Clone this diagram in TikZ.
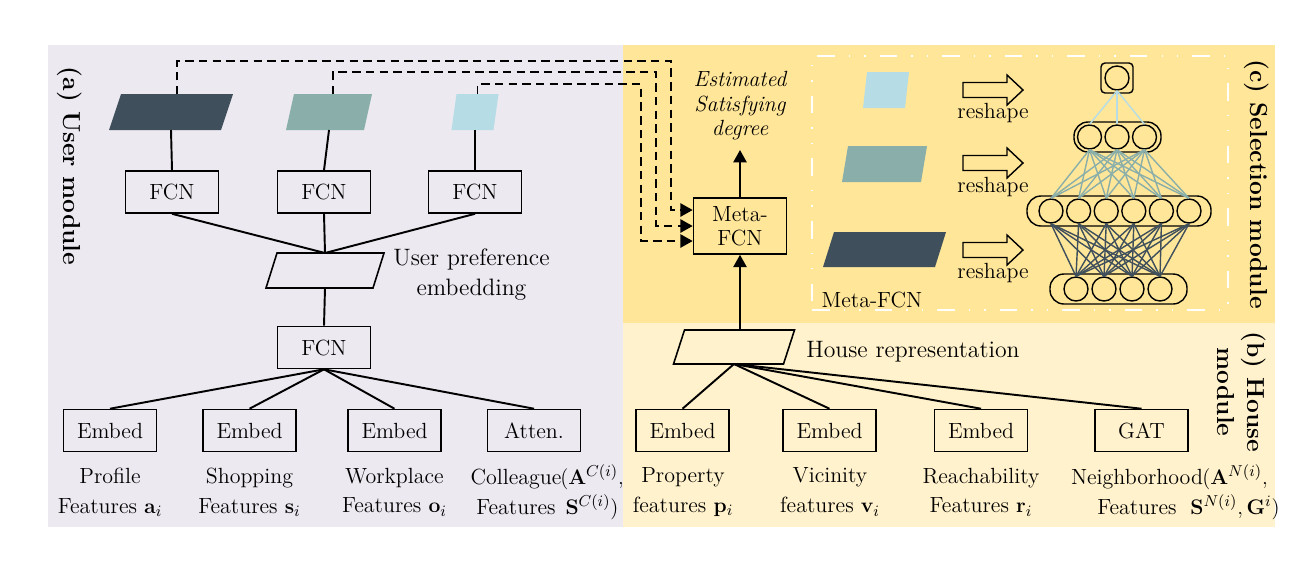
\documentclass[tikz,border=0pt]{standalone}
\usepackage{amsmath}
\usetikzlibrary{calc,arrows.meta}
\newdimen\pxu \pxu=0.02cm
\definecolor{lav}{RGB}{236,233,241}
\definecolor{gold}{RGB}{255,230,153}
\definecolor{cream}{RGB}{255,242,204}
\definecolor{dkc}{RGB}{63,80,92}
\definecolor{tlc}{RGB}{138,175,170}
\definecolor{lbc}{RGB}{182,221,229}
\newcommand\myfs{\fontsize{12.5}{15}\selectfont}
% parallelogram: name, cx, cy, w, h, slant, path options
\newcommand\para[7]{%
  \node[minimum width=#4\pxu, minimum height=#5\pxu, inner sep=0pt, outer sep=0pt] (#1) at (#2,#3) {};
  \path[#7] ($(#1.north west)+(#6/2,0)$) -- ($(#1.north east)+(#6/2,0)$) -- ($(#1.south east)+(-#6/2,0)$) -- ($(#1.south west)+(-#6/2,0)$) -- cycle;
  \coordinate (#1-t) at ($(#1.north)+(#6/2,0)$);
}
\newcommand\rsarrow[2]{%
  \draw[line width=0.8pt, fill=gold] (#1,#2-7.5) -- (#1+44,#2-7.5) -- (#1+44,#2-15) -- (#1+60,#2) -- (#1+44,#2+15) -- (#1+44,#2+7.5) -- (#1,#2+7.5) -- cycle;
}
\begin{document}
\begin{tikzpicture}[x=\pxu,y=-\pxu,
  every node/.style={font=\myfs},
  box/.style={draw, line width=0.9pt, minimum width=93\pxu, minimum height=42\pxu, inner sep=0pt},
  conn/.style={line width=1.1pt},
  dconn/.style={line width=1.1pt, dash pattern=on 4.8pt off 3pt},
  tip/.style={-{Triangle[length=7pt,width=7.5pt]}},
  lbl/.style={align=center, font=\fontsize{12.5}{17}\selectfont},
  wide/.style={font=\fontsize{13.5}{17}\selectfont},
  neuron/.style={circle, draw, line width=0.8pt, minimum size=24\pxu, inner sep=0pt},
  layer/.style={draw, line width=0.8pt, rounded corners=14\pxu, minimum height=30\pxu, inner sep=0pt},
  ttl/.style={rotate=-90, font=\bfseries\fontsize{14}{17}\selectfont, align=center},
  nnl/.style={line width=0.8pt}
]
\useasboundingbox (0,0) rectangle (1314,566);
\fill[lav] (48,45) rectangle (623,527);
\fill[gold] (623,45) rectangle (1275,323);
\fill[cream] (623,323) rectangle (1275,527);

% selection box
\node[draw=white, line width=1.4pt, dash pattern=on 10pt off 8pt on 0.8pt off 8pt on 0.8pt off 8pt, minimum width=416\pxu, minimum height=254\pxu, inner sep=0pt] (sel) at (1020,183) {};

% user module
\para{dk}{171}{112}{112}{36}{12}{fill=dkc}
\para{tl}{329}{112}{78}{36}{8}{fill=tlc}
\para{lb}{475}{112}{42}{36}{5}{fill=lbc}
\node[box] (f1) at (172,192) {FCN};
\node[box] (f2) at (324,192) {FCN};
\node[box] (f3) at (475,192) {FCN};
\para{up}{325}{270.5}{107}{35}{11}{draw, line width=0.9pt}
\node[lbl, wide, anchor=west, inner sep=0pt] (upt) at (393,275) {User preference\\embedding};
\node[box] (fc) at (324,347.5) {FCN};
\node[box] (e1) at (110,430.5) {Embed};
\node[box] (e2) at (249.5,430.5) {Embed};
\node[box] (e3) at (394.5,430.5) {Embed};
\node[box] (e4) at (534,430.5) {Atten.};

\draw[conn] (dk.south) -- (f1.north);
\draw[conn] (tl.south) -- (f2.north);
\draw[conn] (lb.south) -- (f3.north);
\foreach \f in {f1,f2,f3} \draw[conn] (\f.south) -- (up.north);
\draw[conn] (up.south) -- (fc.north);
\foreach \e in {e1,e2,e3,e4} \draw[conn] (fc.south) -- (\e.north);

% house module
\para{hr}{734}{347}{110}{34}{11}{draw, line width=0.9pt}
\node[wide, anchor=west, inner sep=0pt] (hrt) at (806,352) {House representation};
\node[box] (e5) at (682.5,430.5) {Embed};
\node[box] (e6) at (829.5,430.5) {Embed};
\node[box] (e7) at (981,430.5) {Embed};
\node[box] (e8) at (1141.5,430.5) {GAT};
\foreach \e in {e5,e6,e7,e8} \draw[conn] (hr.south) -- (\e.north);

% meta FCN
\node[box, minimum height=56\pxu, align=center, font=\fontsize{12.5}{13.6}\selectfont] (mf) at (740,226) {Meta-\\FCN};
\node[align=center, font=\itshape\fontsize{12.5}{14}\selectfont] (est) at (740,106) {Estimated\\Satisfying\\degree};
\coordinate (estb) at (740,150);
\draw[conn,tip] (mf.south |- hr.north) -- (mf.south);
\draw[conn,tip] (mf.north) -- (estb);

% dashed connectors
\draw[dconn,tip] (dk-t) |- (671,61) |- ($(mf.west)+(0,-16)$);
\draw[dconn,tip] (tl-t) |- (656,72) |- (mf.west);
\draw[dconn,tip] (lb-t) |- (641,84) |- ($(mf.west)+(0,15)$);

% selection module contents
\para{lb2}{886}{90}{42}{36}{4}{fill=lbc}
\para{tl2}{884.5}{164}{79}{36}{6}{fill=tlc}
\para{dk2}{884.5}{249.5}{112}{35}{11}{fill=dkc}
\node (mft) at (872,300) {Meta-FCN};
\rsarrow{963}{90}
\rsarrow{963}{163}
\rsarrow{963}{250}
\node (rs1) at (993,113) {reshape};
\node (rs2) at (993,187) {reshape};
\node (rs3) at (993,273) {reshape};

% neural net
\node[draw, line width=0.8pt, rounded corners=4\pxu, minimum width=32\pxu, minimum height=30\pxu, inner sep=0pt] (L0) at (1117,78) {};
\node[layer, minimum width=87\pxu] (L1) at (1117.5,137) {};
\node[layer, minimum width=184\pxu] (L2) at (1119,211) {};
\node[layer, minimum width=137\pxu] (L3) at (1118.5,289) {};
\node[neuron] (n0) at (1117,78) {};
\foreach \k in {1,2,3} \node[neuron] (p\k) at ({1117+(\k-2)*27.5},137) {};
\foreach \k in {1,...,6} \node[neuron] (q\k) at ({1120+(\k-3.5)*27.6},211) {};
\foreach \k in {1,...,4} \node[neuron] (r\k) at ({1118+(\k-2.5)*28},289) {};
\foreach \k in {1,2,3} \draw[nnl, lbc] (n0.south) -- (p\k.north);
\foreach \i in {1,2,3} \foreach \j in {1,...,6} \draw[nnl, tlc] (p\i.south) -- (q\j.north);
\foreach \i in {1,...,6} \foreach \j in {1,...,4} \draw[nnl, dkc] (q\i.south) -- (r\j.north);

% titles
\node[ttl] (ta) at (70,166) {(a) User module};
\node[ttl] (tc) at (1257,184) {(c) Selection module};
\node[ttl] (tb) at (1242,392) {(b) House\\module};

% bottom labels
\node[lbl] (t1) at (110,492) {Profile\\Features $\mathbf{a}_i$};
\node[lbl] (t2) at (249.5,492) {Shopping\\Features $\mathbf{s}_i$};
\node[lbl] (t3) at (394.5,492) {Workplace\\Features $\mathbf{o}_i$};
\node[lbl] (t4) at (516,492) {Colleague\\Features};
\node[lbl] (t4m) at (592,492) {$(\mathbf{A}^{C(i)},$\\$\mathbf{S}^{C(i)})$};
\node[lbl] (t5) at (683,492) {Property\\features $\mathbf{p}_i$};
\node[lbl] (t6) at (830,492) {Vicinity\\features $\mathbf{v}_i$};
\node[lbl] (t7) at (981,492) {Reachability\\Features $\mathbf{r}_i$};
\node[lbl] (t8) at (1137,492) {Neighborhood\\Features};
\node[lbl] (t8m) at (1235,492) {$(\mathbf{A}^{N(i)},$\\$\mathbf{S}^{N(i)},\mathbf{G}^{i})$};
\end{tikzpicture}
\end{document}
